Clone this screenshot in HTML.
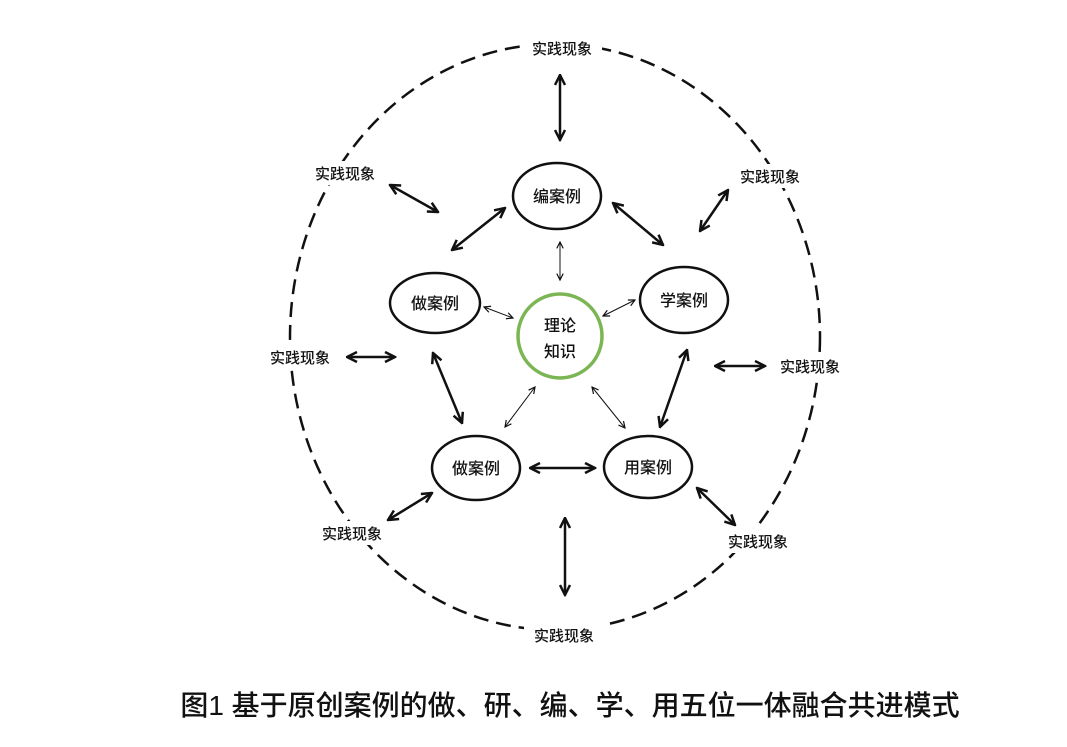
<!DOCTYPE html>
<html><head><meta charset="utf-8"><style>
html,body{margin:0;padding:0;background:#fff;}
svg{display:block;}
text{font-family:"Liberation Sans","Noto Sans CJK SC",sans-serif;fill:#111;}
</style></head><body>
<svg width="1067" height="747" viewBox="0 0 1067 747" xmlns="http://www.w3.org/2000/svg">
<defs>
<marker id="a" viewBox="0 0 10 10" refX="9" refY="5" markerWidth="5" markerHeight="5" orient="auto-start-reverse" markerUnits="strokeWidth"><path d="M1,1 L9,5 L1,9" fill="none" stroke="#111" stroke-width="2"/></marker>
<marker id="b" viewBox="0 0 10 10" refX="9" refY="5" markerWidth="8" markerHeight="8" orient="auto-start-reverse" markerUnits="strokeWidth"><path d="M1,1 L9,5 L1,9" fill="none" stroke="#111" stroke-width="1.5"/></marker>
</defs>
<ellipse cx="555" cy="337" rx="265" ry="293" fill="none" stroke="#111" stroke-width="2.5" stroke-dasharray="15 8"/>
<g fill="#fff">
<rect x="522" y="36" width="80" height="24"/>
<rect x="305" y="161" width="80" height="24"/>
<rect x="730" y="164" width="80" height="24"/>
<rect x="260" y="345" width="80" height="24"/>
<rect x="770" y="354" width="80" height="24"/>
<rect x="312" y="521" width="80" height="24"/>
<rect x="718" y="529" width="80" height="24"/>
<rect x="524" y="623" width="80" height="24"/>
</g>
<g font-size="15" text-anchor="middle" font-weight="500">
<text x="562" y="54">实践现象</text>
<text x="345" y="179">实践现象</text>
<text x="770" y="182">实践现象</text>
<text x="300" y="363">实践现象</text>
<text x="810" y="372">实践现象</text>
<text x="352" y="539">实践现象</text>
<text x="758" y="547">实践现象</text>
<text x="564" y="641">实践现象</text>
</g>
<g stroke="#111" stroke-width="2.5" fill="none" marker-start="url(#a)" marker-end="url(#a)">
<line x1="560" y1="75" x2="560" y2="140"/>
<line x1="390" y1="185" x2="438" y2="212"/>
<line x1="728" y1="190" x2="700" y2="231"/>
<line x1="347" y1="357" x2="395" y2="357"/>
<line x1="715" y1="366" x2="765" y2="366"/>
<line x1="388" y1="520" x2="432" y2="493"/>
<line x1="697" y1="488" x2="735" y2="525"/>
<line x1="565" y1="518" x2="565" y2="595"/>
<line x1="452" y1="250" x2="505" y2="208"/>
<line x1="613" y1="203" x2="663" y2="245"/>
<line x1="433" y1="353" x2="462" y2="423"/>
<line x1="687" y1="350" x2="660" y2="427"/>
<line x1="530" y1="468" x2="595" y2="468"/>
</g>
<g stroke="#111" stroke-width="1" fill="none" marker-start="url(#b)" marker-end="url(#b)">
<line x1="560" y1="242" x2="560" y2="280"/>
<line x1="484" y1="307" x2="513" y2="318"/>
<line x1="635" y1="300" x2="603" y2="316"/>
<line x1="535" y1="387" x2="505" y2="427"/>
<line x1="592" y1="387" x2="625" y2="428"/>
</g>
<g fill="#fff" stroke="#111" stroke-width="2.5">
<ellipse cx="557" cy="196" rx="44" ry="33"/>
<ellipse cx="435" cy="303" rx="45" ry="30"/>
<ellipse cx="684" cy="300" rx="44" ry="33"/>
<ellipse cx="476" cy="468" rx="44" ry="32"/>
<ellipse cx="648" cy="467" rx="44" ry="31"/>
</g>
<circle cx="560" cy="336" r="42" fill="#fff" stroke="#7cb554" stroke-width="3.5"/>
<g font-size="16" text-anchor="middle" font-weight="500">
<text x="557" y="202">编案例</text>
<text x="435" y="309">做案例</text>
<text x="684" y="306">学案例</text>
<text x="476" y="474">做案例</text>
<text x="648" y="473">用案例</text>
<text x="560" y="331">理论</text>
<text x="560" y="357">知识</text>
</g>
<text x="570" y="715" font-size="28" text-anchor="middle" font-weight="500">图1  基于原创案例的做、研、编、学、用五位一体融合共进模式</text>
</svg>
</body></html>
